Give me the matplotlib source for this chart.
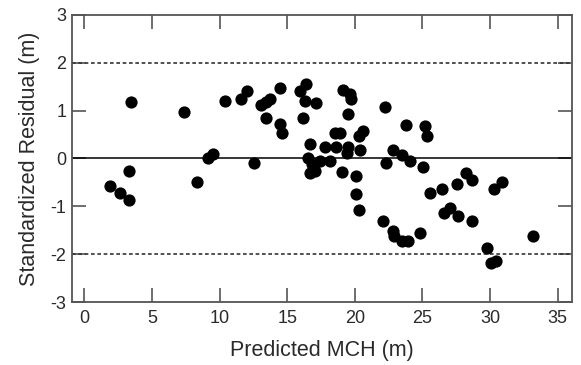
import matplotlib
matplotlib.use("Agg")
import matplotlib.pyplot as plt

plt.rcParams['font.family'] = ['Liberation Sans', 'DejaVu Sans']
plt.rcParams['axes.unicode_minus'] = False

predicted_mch = [
    1.9, 2.65, 3.3, 3.3, 3.45, 7.4, 8.3, 9.15, 9.5, 10.4,
    11.6, 12.0, 12.55, 13.1, 13.47, 13.72, 13.4, 14.45, 14.65, 14.5,
    15.95, 16.4, 16.3, 17.15, 16.2, 16.65, 16.55, 16.8, 16.7, 17.05,
    17.45, 18.15, 17.8, 18.6, 18.5, 18.9, 19.05, 19.1, 19.65, 19.7,
    19.5, 19.5, 19.4, 20.3, 20.6, 20.35, 20.05, 20.05, 20.3, 22.2,
    22.3, 22.85, 23.45, 24.1, 25.05, 23.75, 25.15, 25.35, 22.05, 22.85,
    22.9, 23.45, 23.95, 24.85, 25.55, 26.45, 26.6, 27.05, 27.6, 28.65,
    27.55, 28.2, 28.65, 30.25, 30.85, 29.75, 30.05, 30.4, 33.2,
]
std_residual = [
    -0.58, -0.72, -0.86, -0.27, 1.19, 0.97, -0.49, 0.0, 0.09, 1.20,
    1.25, 1.42, -0.10, 1.11, 1.18, 1.25, 0.85, 0.72, 0.54, 1.47,
    1.42, 1.55, 1.20, 1.15, 0.85, 0.31, 0.02, -0.12, -0.31, -0.27,
    -0.05, -0.05, 0.25, 0.24, 0.53, 0.53, -0.28, 1.44, 1.35, 1.24,
    0.93, 0.24, 0.11, 0.48, 0.57, 0.17, -0.36, -0.75, -1.07, 1.07,
    -0.10, 0.18, 0.08, -0.06, -0.18, 0.71, 0.68, 0.48, -1.30, -1.51,
    -1.61, -1.73, -1.73, -1.56, -0.72, -0.63, -1.14, -1.03, -1.21, -1.30,
    -0.53, -0.31, -0.44, -0.63, -0.50, -1.88, -2.19, -2.15, -1.61,
]
x_ticks = [0, 5, 10, 15, 20, 25, 30, 35]
y_ticks = [-3, -2, -1, 0, 1, 2, 3]
limit_lines = [-2, 2]

fig = plt.figure(figsize=(5.81, 3.65), dpi=100)
ax = fig.add_axes([0.124, 0.1726, 0.8605, 0.7864])

ax.plot(predicted_mch, std_residual, 'o', color='black', markersize=8.8,
        markeredgewidth=0, zorder=3)
ax.axhline(0, color='black', linewidth=1.1, zorder=2)
for yl in limit_lines:
    ax.axhline(yl, color='#333333', linewidth=1.2, linestyle=(0, (2.2, 1.6)), zorder=2)

ax.set_xlim(-0.9, 36.05)
ax.set_ylim(-3, 3)
ax.set_xticks(x_ticks)
ax.set_yticks(y_ticks)

spine_color = '#555555'
for s in ax.spines.values():
    s.set_color(spine_color)
    s.set_linewidth(1.3)

ax.tick_params(axis='both', direction='in', length=10, width=1.2, color=spine_color,
               labelsize=13, labelcolor='#2a2a2a', top=True, right=True)
ax.tick_params(axis='x', pad=6)
ax.tick_params(axis='y', pad=4)

ax.set_xlabel('Predicted MCH (m)', fontsize=15.5, color='#2a2a2a', labelpad=9)
ax.set_ylabel('Standardized Residual (m)', fontsize=15.5, color='#2a2a2a', labelpad=8)

fig.savefig('out.png', dpi=100)
